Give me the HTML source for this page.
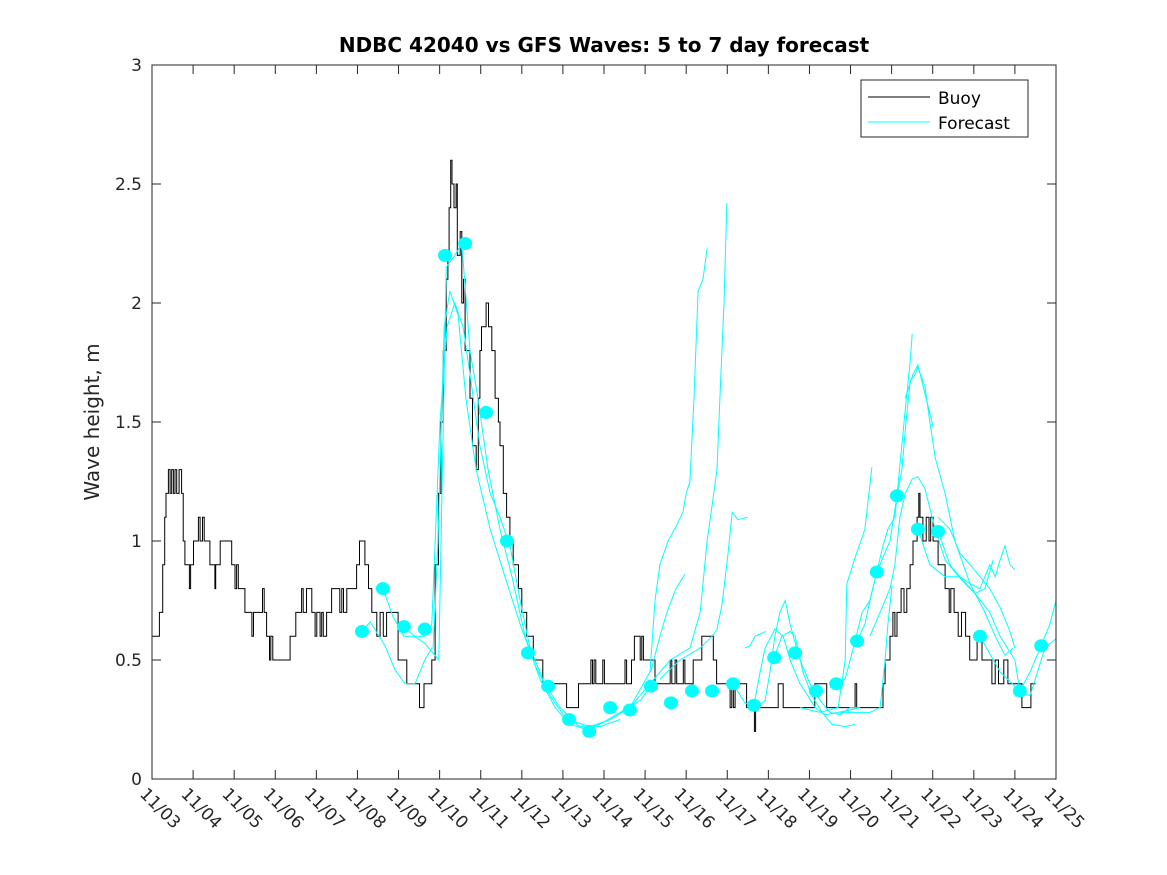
<!DOCTYPE html>
<html><head><meta charset="utf-8"><style>
body{margin:0;background:#fff;}
svg{display:block;font-family:"DejaVu Sans","Liberation Sans",sans-serif;}
</style></head><body>
<svg id="chart" width="1167" height="875" viewBox="0 0 1167 875" xmlns="http://www.w3.org/2000/svg">
<rect x="0" y="0" width="1167" height="875" fill="#fff"/>
<text x="604" y="52" text-anchor="middle" font-size="20" font-weight="bold" fill="#000">NDBC 42040 vs GFS Waves: 5 to 7 day forecast</text>
<text transform="translate(99,422) rotate(-90)" text-anchor="middle" font-size="20" fill="#262626">Wave height, m</text>
<g id="plot"></g>
<g id="axes"></g>
<g>
<rect x="861" y="80" width="167" height="57" fill="#fff" stroke="#262626" stroke-width="1"/>
<line x1="868" y1="97" x2="930" y2="97" stroke="#000" stroke-width="1"/>
<text x="938" y="104" font-size="17" fill="#000">Buoy</text>
<line x1="868" y1="122" x2="930" y2="122" stroke="#00ffff" stroke-width="1"/>
<text x="938" y="129" font-size="17" fill="#000">Forecast</text>
</g>
</svg>
<script>
const xTickLabels=["11/03","11/04","11/05","11/06","11/07","11/08","11/09","11/10","11/11","11/12","11/13","11/14","11/15","11/16","11/17","11/18","11/19","11/20","11/21","11/22","11/23","11/24","11/25"];
const yTicks=[0,0.5,1,1.5,2,2.5,3];
const yTickLabels=["0","0.5","1","1.5","2","2.5","3"];
const buoyDaysA=[0,0.18,0.26,0.31,0.34,0.40,0.44,0.48,0.52,0.56,0.60,0.66,0.72,0.76,0.80,0.91,0.94,1.01,1.13,1.17,1.23,1.27,1.33,1.41,1.53,1.55,1.66,1.94,2.02,2.06,2.10,2.26,2.43,2.47,2.55,2.69,2.73,2.79,2.86,2.89,2.94,3.03,3.36,3.50,3.64,3.68,3.76,3.89,3.97,4.01,4.09,4.13,4.17,4.25,4.33,4.37,4.57,4.62,4.66,4.74,4.82,4.98,5.05,5.18,5.27,5.35,5.47,5.55,5.63,5.71,5.99,6.20,6.51,6.62,6.77,6.81,6.89,6.97,7.03,7.09,7.16,7.20,7.23,7.27,7.30,7.35,7.40,7.43,7.50,7.54,7.58,7.62,7.74,7.80,7.89,7.94,7.98,8.02,8.13,8.19,8.27,8.35,8.43,8.47,8.55,8.63,8.71,8.79,8.92,9.00,9.12,9.28,9.51,10.09,10.38,10.68,10.72,10.76,10.80,10.97,11.01,11.51,11.55,11.67,11.74,11.88,11.92,11.96];
const buoyValsA=[0.6,0.7,0.9,1.1,1.2,1.3,1.2,1.3,1.2,1.3,1.2,1.3,1.2,1.0,0.9,0.8,0.9,1.0,1.1,1.0,1.1,1.0,1.0,0.9,0.8,0.9,1.0,0.9,0.8,0.9,0.8,0.7,0.6,0.7,0.7,0.8,0.7,0.6,0.5,0.6,0.5,0.5,0.6,0.7,0.8,0.7,0.8,0.7,0.6,0.7,0.6,0.7,0.6,0.7,0.7,0.8,0.7,0.8,0.7,0.8,0.8,0.9,1.0,0.9,0.8,0.7,0.6,0.7,0.6,0.7,0.5,0.4,0.3,0.4,0.4,0.5,0.9,1.2,1.5,1.8,2.1,2.2,2.4,2.6,2.5,2.4,2.5,2.2,2.3,2.0,2.1,1.8,1.6,1.4,1.3,1.6,1.8,1.9,2.0,1.9,1.8,1.6,1.5,1.4,1.2,1.1,1.0,0.9,0.8,0.7,0.6,0.5,0.4,0.3,0.4,0.5,0.4,0.5,0.4,0.5,0.4,0.5,0.4,0.5,0.6,0.5,0.6,0.5];
const buoyDaysB=[12.24,12.61,12.65,12.73,12.77,12.93,12.97,13.17,13.38,13.66,13.74,14.07,14.11,14.15,14.19,14.47,14.66,14.69,15.24,15.36,16.13,16.42,17.11,17.15,17.79,17.84,17.96,18.03,18.08,18.13,18.23,18.30,18.37,18.45,18.52,18.62,18.66,18.69,18.76,18.84,18.91,18.95,19.01,19.13,19.30,19.40,19.44,19.52,19.62,19.70,19.80,19.90,20.08,20.20,20.44,20.52,20.60,20.73,20.83,21.17,21.39];
const buoyValsB=[0.4,0.5,0.4,0.5,0.4,0.5,0.4,0.5,0.6,0.5,0.4,0.3,0.4,0.3,0.4,0.3,0.2,0.3,0.4,0.3,0.4,0.3,0.4,0.3,0.4,0.5,0.6,0.7,0.6,0.7,0.8,0.7,0.8,0.9,1.0,1.1,1.2,1.1,1.0,1.1,1.0,1.1,1.0,0.9,0.8,0.7,0.8,0.7,0.6,0.7,0.6,0.5,0.6,0.5,0.4,0.5,0.4,0.5,0.4,0.3,0.4];
const markerDays=[5.11,5.62,6.13,6.64,7.13,7.62,8.13,8.64,9.15,9.64,10.15,10.64,11.15,11.63,12.14,12.63,13.14,13.63,14.14,14.65,15.14,15.65,16.16,16.65,17.16,17.64,18.13,18.64,19.13,20.15,21.12,21.64];
const markerVals=[0.62,0.80,0.64,0.63,2.2,2.25,1.54,1.0,0.53,0.39,0.25,0.20,0.30,0.29,0.39,0.32,0.37,0.37,0.40,0.31,0.51,0.53,0.37,0.40,0.58,0.87,1.19,1.05,1.04,0.60,0.37,0.56];
const fcA_days=[5.11,5.31,5.67,5.91,6.16,6.40,6.64,6.81,6.84,6.96,7.11,7.25,7.45,7.64,7.89,8.23,8.59,8.96,9.32,9.69,10.05,10.42,10.90,11.39];
const fcA_vals=[0.62,0.66,0.56,0.46,0.40,0.40,0.50,0.55,0.55,1.0,1.9,2.05,1.95,1.6,1.3,1.05,0.85,0.65,0.48,0.35,0.26,0.22,0.22,0.25];
const fcB_days=[5.62,5.87,6.13,6.38,6.64,6.98,7.16,7.37,7.54,7.74,7.93,8.18,8.47,8.76,9.08,9.44,9.81,10.17,10.54,10.90,11.39,11.88,12.14];
const fcB_vals=[0.80,0.68,0.60,0.60,0.57,0.50,2.15,2.2,2.25,1.8,1.6,1.3,1.05,0.85,0.60,0.42,0.30,0.23,0.21,0.23,0.28,0.33,0.39];
const fcC_days=[6.13,6.40,6.64,6.81,7.01,7.18,7.37,7.57,7.74,7.98,8.23,8.47,8.71,8.96,9.20,9.56,9.93,10.29,10.66,11.15,11.63,12.12,12.24,12.36,12.56,12.75,12.92,13.00,13.09,13.19,13.29,13.41,13.51];
const fcC_vals=[0.64,0.60,0.60,0.65,1.5,1.9,2.0,1.9,1.7,1.4,1.2,1.1,0.98,0.75,0.55,0.40,0.30,0.24,0.22,0.25,0.30,0.45,0.75,0.9,1.0,1.06,1.12,1.2,1.25,1.6,2.05,2.1,2.23];
const fcD_days=[11.63,12.12,12.61,13.09,13.34,13.51,13.63,13.75,13.82,13.92,13.99];
const fcD_vals=[0.30,0.40,0.50,0.55,0.70,1.0,1.15,1.3,1.6,2.0,2.42];
const fcE_days=[12.36,12.85,13.34,13.63,13.75,13.87,14.02,14.12,14.26,14.50];
const fcE_vals=[0.42,0.50,0.55,0.60,0.63,0.73,0.95,1.12,1.09,1.1];
const fcF_days=[12.14,12.36,12.53,12.75,12.97];
const fcF_vals=[0.45,0.60,0.70,0.80,0.86];
const fcG_days=[14.14,14.43,14.68,14.92,15.04,15.16,15.28,15.41,15.53,15.77,16.01,16.26,16.50,16.74,16.99,17.23];
const fcG_vals=[0.40,0.32,0.30,0.33,0.45,0.60,0.70,0.75,0.65,0.50,0.40,0.33,0.28,0.27,0.30,0.30];
const fcH_days=[15.14,15.33,15.53,15.65,15.84,16.06,16.31,16.55,16.87,17.11];
const fcH_vals=[0.51,0.60,0.62,0.60,0.45,0.35,0.28,0.23,0.22,0.23];
const fcI_days=[14.65,14.80,14.92,15.16,15.36,15.53,15.77,15.96,16.14,16.38,16.70,16.99,17.23];
const fcI_vals=[0.31,0.45,0.55,0.63,0.60,0.50,0.40,0.35,0.30,0.27,0.28,0.29,0.30];
const fcJ_days=[14.43,14.55,14.68,14.94];
const fcJ_vals=[0.55,0.56,0.60,0.62];
const fcK_days=[15.77,16.26,16.70,16.87,16.91,17.11,17.35,17.52];
const fcK_vals=[0.30,0.28,0.30,0.50,0.82,0.93,1.05,1.31];
const fcL_days=[16.74,17.47,17.72,17.84,17.91,18.01];
const fcL_vals=[0.28,0.28,0.30,0.50,0.65,0.81];
const fcM_days=[16.65,16.87,17.11,17.28,17.47,17.64,17.79,17.91,18.08,18.13,18.25,18.35,18.45,18.57,18.64,18.81,18.93,19.06,19.30,19.54,19.91,20.27,20.52,20.76,20.95];
const fcM_vals=[0.40,0.42,0.58,0.70,0.75,0.87,0.98,1.05,1.1,1.19,1.3,1.5,1.67,1.70,1.73,1.65,1.5,1.35,1.2,1.0,0.82,0.70,0.60,0.52,0.55];
const fcN_days=[17.16,17.35,17.47,17.64,17.96,18.13,18.33,18.45,18.50];
const fcN_vals=[0.58,0.65,0.75,0.87,1.0,1.19,1.55,1.75,1.87];
const fcO_days=[18.33,18.52,18.64,18.81,19.01];
const fcO_vals=[1.6,1.7,1.74,1.62,1.48];
const fcP_days=[17.47,17.72,17.96,18.08,18.20,18.33,18.50,18.64,18.81,19.06,19.30,19.54,19.79,20.03,20.27,20.39,20.47];
const fcP_vals=[0.60,0.70,0.80,0.90,1.1,1.2,1.26,1.27,1.22,1.05,0.92,0.87,0.82,0.78,0.80,0.87,0.92];
const fcQ_days=[19.13,19.42,19.66,19.91,20.15,20.39,20.52,20.64,20.76,20.88,21.00];
const fcQ_vals=[1.04,0.90,0.85,0.82,0.80,0.90,0.85,0.92,0.98,0.90,0.88];
const fcR_days=[18.64,18.93,19.30,19.66,20.03,20.39,20.64,21.00,21.12,21.37,21.64,21.85,22.00];
const fcR_vals=[1.05,0.90,0.85,0.85,0.78,0.70,0.60,0.50,0.37,0.45,0.56,0.65,0.75];
const fcS_days=[20.15,20.64,21.12,21.37,21.73,22.00];
const fcS_vals=[0.60,0.45,0.37,0.35,0.55,0.59];
const fcT_days=[19.13,19.42,19.66,19.91,20.15,20.39,20.64,20.88,21.00];
const fcT_vals=[1.10,1.05,0.95,0.90,0.85,0.80,0.72,0.62,0.55];

const X0=152,X1=1056,Y0=779,Y1=65,NDAYS=22,YMAX=3;
function xs(d){return X0+(X1-X0)*d/NDAYS;}
function ys(v){return Y0-(Y0-Y1)*v/YMAX;}
const NS="http://www.w3.org/2000/svg";
const plot=document.getElementById('plot');
const axes=document.getElementById('axes');
function mk(tag,attrs,parent){const e=document.createElementNS(NS,tag);for(const k in attrs)e.setAttribute(k,attrs[k]);parent.appendChild(e);return e;}

const buoyDays=buoyDaysA.concat(buoyDaysB);
const buoyVals=buoyValsA.concat(buoyValsB);
let d="M"+xs(buoyDays[0])+","+ys(buoyVals[0]);
for(let i=1;i<buoyDays.length;i++){d+=" H"+xs(buoyDays[i]).toFixed(1)+" V"+ys(buoyVals[i]).toFixed(1);}
d+=" H"+xs(21.5).toFixed(1);
const bl=mk('path',{d:d,fill:'none',stroke:'#000','stroke-width':1},plot);



const fcs=[[fcA_days,fcA_vals],[fcB_days,fcB_vals],[fcC_days,fcC_vals],[fcD_days,fcD_vals],[fcE_days,fcE_vals],[fcF_days,fcF_vals],[fcG_days,fcG_vals],[fcH_days,fcH_vals],[fcI_days,fcI_vals],[fcJ_days,fcJ_vals],[fcK_days,fcK_vals],[fcL_days,fcL_vals],[fcM_days,fcM_vals],[fcN_days,fcN_vals],[fcO_days,fcO_vals],[fcP_days,fcP_vals],[fcQ_days,fcQ_vals],[fcR_days,fcR_vals],[fcS_days,fcS_vals],[fcT_days,fcT_vals]];
fcs.forEach(function(f,j){
  const pts=f[0].map(function(dd,i){return xs(dd).toFixed(1)+","+ys(f[1][i]).toFixed(1);}).join(" ");
  const pl=mk('polyline',{points:pts,fill:'none',stroke:'#00ffff','stroke-width':1},plot);
  
  
});
markerDays.forEach(function(dd,i){
  const c=mk('ellipse',{cx:xs(dd),cy:ys(markerVals[i]),rx:7,ry:6.5,fill:'#00ffff'},plot);
  
  
});

const box=mk('rect',{x:X0,y:Y1,width:X1-X0,height:Y0-Y1,fill:'none',stroke:'#262626','stroke-width':1},axes);


xTickLabels.forEach(function(lab,i){
  const x=xs(i);
  mk('line',{x1:x,y1:Y0,x2:x,y2:Y0-9,stroke:'#262626','stroke-width':1},axes);
  mk('line',{x1:x,y1:Y1,x2:x,y2:Y1+9,stroke:'#262626','stroke-width':1},axes);
  const t=mk('text',{transform:'translate('+(x-13)+',795) rotate(45)','font-size':17,fill:'#262626'},axes);
  t.textContent=lab;
  
  
});
yTicks.forEach(function(v,i){
  const y=ys(v);
  mk('line',{x1:X0,y1:y,x2:X0+9,y2:y,stroke:'#262626','stroke-width':1},axes);
  mk('line',{x1:X1,y1:y,x2:X1-9,y2:y,stroke:'#262626','stroke-width':1},axes);
  const t=mk('text',{x:X0-10,y:y+6,'text-anchor':'end','font-size':17,fill:'#262626'},axes);
  t.textContent=yTickLabels[i];
  
  
});
</script>
</body></html>
